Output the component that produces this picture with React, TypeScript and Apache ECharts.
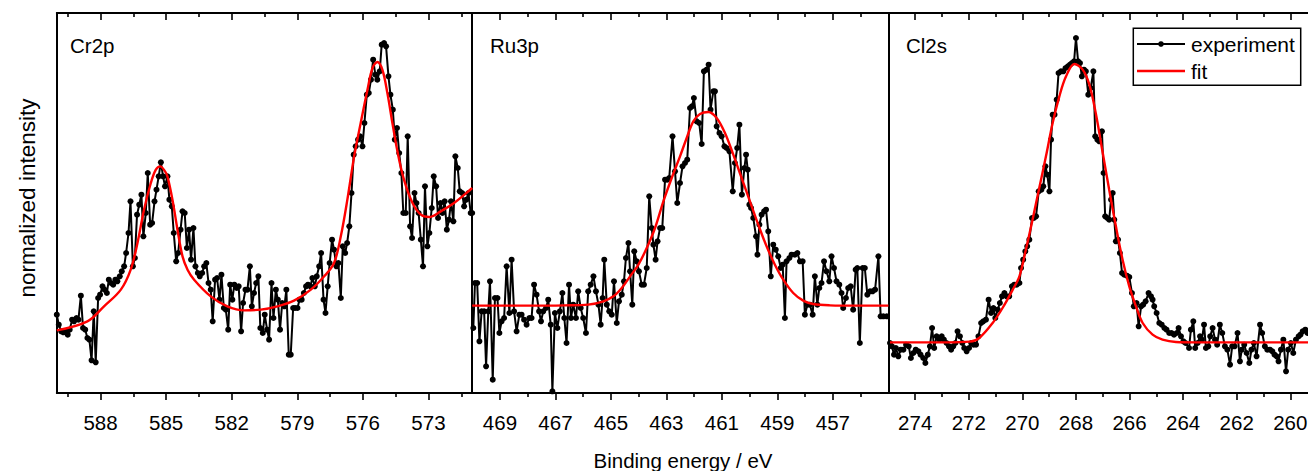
import React, { useEffect, useRef } from "react";
import * as echarts from "echarts";

// ---------- Cr2p ----------
const crEnergy = [
  590.0, 589.91, 589.8, 589.7, 589.6, 589.5, 589.41, 589.3, 589.21, 589.1,
  589.01, 588.9, 588.8, 588.7, 588.6, 588.51, 588.41, 588.31, 588.22, 588.11,
  588.02, 587.91, 587.82, 587.71, 587.62, 587.52, 587.42, 587.32, 587.23, 587.12,
  587.03, 586.92, 586.83, 586.72, 586.63, 586.52, 586.43, 586.33, 586.23, 586.13,
  586.04, 585.93, 585.84, 585.73, 585.64, 585.53, 585.44, 585.34, 585.24, 585.14,
  585.05, 584.94, 584.85, 584.74, 584.65, 584.54, 584.45, 584.34, 584.25, 584.15,
  584.05, 583.95, 583.86, 583.75, 583.66, 583.55, 583.46, 583.35, 583.26, 583.16,
  583.06, 582.96, 582.87, 582.76, 582.67, 582.56, 582.47, 582.36, 582.27, 582.16,
  582.07, 581.97, 581.88, 581.77, 581.68, 581.57, 581.48, 581.37, 581.28, 581.17,
  581.08, 580.98, 580.88, 580.78, 580.69, 580.58, 580.49, 580.38, 580.29, 580.18,
  580.09, 579.98, 579.89, 579.79, 579.69, 579.59, 579.5, 579.39, 579.3, 579.19,
  579.1, 578.99, 578.9, 578.8, 578.7, 578.6, 578.51, 578.4, 578.31, 578.2,
  578.11, 578.0, 577.91, 577.8, 577.71, 577.61, 577.52, 577.41, 577.32, 577.21,
  577.12, 577.01, 576.92, 576.81, 576.72, 576.62, 576.52, 576.42, 576.33, 576.22,
  576.13, 576.02, 575.93, 575.82, 575.73, 575.63, 575.53, 575.43, 575.34, 575.23,
  575.14, 575.03, 574.94, 574.83, 574.74, 574.63, 574.54, 574.44, 574.34, 574.24,
  574.15, 574.04, 573.95, 573.84, 573.75, 573.64, 573.55, 573.45, 573.35, 573.25,
  573.16, 573.05, 572.96, 572.85, 572.76, 572.65, 572.56, 572.45, 572.36, 572.26,
  572.16, 572.06, 571.97, 571.86, 571.77, 571.66, 571.57, 571.46, 571.37, 571.27,
  571.17, 571.07, 571.0,
];
const crIntensity = [
  23.5, 20.5, 18.5, 18.2, 18.5, 17.5, 19, 22, 21.5, 22.5,
  22, 29.2, 19.5, 19, 16.5, 16, 9.8, 24.5, 9.2, 28.5,
  29.5, 32, 31, 30, 34, 33, 32.5, 34, 33.5, 35,
  36.5, 38, 42, 48, 57.5, 38, 40.5, 53.5, 56.5, 59.5,
  47, 54, 66, 50.5, 51, 57.5, 61, 65, 69.2, 65,
  62, 65, 58, 56, 48, 39.5, 42, 49, 54.5, 54,
  43.5, 49, 40, 49.5, 38, 36, 35, 36, 38, 39,
  33, 31, 21.5, 34, 34.5, 28, 35.5, 25.5, 25, 19,
  32.5, 28, 32.5, 31.5, 32, 18.5, 27, 31, 31, 38,
  26, 30, 33, 35, 19.5, 18, 23.5, 19, 16, 33,
  22.5, 31, 28, 19, 27, 26, 31, 11.5, 11.5, 25.5,
  25.5, 25.5, 28, 28, 30, 32, 32.5, 32, 34.5, 32,
  35, 38, 42, 28, 24, 32, 39, 46, 43, 38,
  39, 28.5, 44, 42, 45, 50, 60, 71.5, 74, 76,
  77, 74, 81, 89.5, 90, 94, 100, 95.5, 94, 96.5,
  104.5, 105, 104, 95, 89.5, 85, 76, 79.5, 72, 66,
  54, 54, 77, 50, 46.5, 60, 57, 54, 46, 38,
  62, 44, 48, 55.5, 65, 62, 52.5, 57, 54, 57.5,
  49, 52, 57.5, 51.5, 71, 67.5, 60.5, 60, 56, 58,
  60, 54, 54,
];
const crFitEnergy = [
  590.0, 588.6, 587.84, 587.07, 586.62, 586.31, 586.01, 585.7, 585.47, 585.27,
  585.05, 584.94, 584.71, 584.48, 584.25, 584.02, 583.72, 582.96, 582.2, 581.43,
  580.67, 579.91, 579.15, 578.38, 577.77, 577.32, 577.01, 576.71, 576.4, 576.1,
  575.79, 575.56, 575.34, 575.11, 574.88, 574.65, 574.42, 574.12, 573.73, 573.35,
  572.97, 572.44, 571.83, 571.3, 571.0,
];
const crFitIntensity = [
  18.8, 21.5, 26, 31, 37, 45, 55, 63, 67, 68,
  66.5, 65, 58, 49, 41, 37, 34, 29, 26, 24.8,
  25, 26, 27.7, 31, 35, 39, 47, 58, 71, 81,
  91, 97.5, 99.3, 97, 90, 81, 72.5, 64, 57, 53.5,
  52.8, 54.5, 57, 59.8, 61.5,
];

// ---------- Ru3p ----------
const ruEnergy = [
  469.96, 469.9, 469.82, 469.74, 469.66, 469.57, 469.5, 469.42, 469.36, 469.26,
  469.18, 469.09, 469.02, 468.94, 468.85, 468.76, 468.66, 468.58, 468.49, 468.4,
  468.3, 468.22, 468.13, 468.04, 467.94, 467.86, 467.77, 467.68, 467.59, 467.52,
  467.44, 467.34, 467.26, 467.17, 467.11, 467.02, 466.93, 466.84, 466.75, 466.68,
  466.6, 466.51, 466.44, 466.36, 466.26, 466.18, 466.09, 466.0, 465.9, 465.82,
  465.73, 465.63, 465.54, 465.45, 465.37, 465.3, 465.24, 465.15, 465.06, 464.97,
  464.89, 464.79, 464.71, 464.61, 464.53, 464.46, 464.37, 464.31, 464.23, 464.16,
  464.07, 463.99, 463.89, 463.81, 463.71, 463.62, 463.53, 463.47, 463.39, 463.32,
  463.23, 463.15, 463.05, 462.97, 462.9, 462.78, 462.69, 462.61,
  462.51, 462.42, 462.33, 462.25, 462.15, 462.08, 462.01, 461.91, 461.82, 461.73,
  461.65, 461.55, 461.48, 461.41, 461.31, 461.25, 461.19, 461.09, 461.01, 460.91,
  460.83, 460.73, 460.61, 460.53, 460.45, 460.37, 460.28, 460.19, 460.13, 460.07,
  460.01, 459.95, 459.87, 459.77, 459.72, 459.65, 459.57, 459.48, 459.41, 459.33,
  459.24, 459.15, 459.06, 458.97, 458.88, 458.81, 458.73, 458.67, 458.57, 458.49,
  458.37, 458.28, 458.19, 458.09, 458.01, 457.92, 457.83, 457.73, 457.65, 457.56,
  457.49, 457.41, 457.32, 457.23, 457.13, 457.05, 456.96, 456.87, 456.77, 456.69,
  456.63, 456.53, 456.45, 456.36, 456.27, 456.18, 456.12, 456.03, 455.93, 455.85,
  455.76, 455.66, 455.57, 455.48, 455.36, 455.28, 455.18, 455.06,
];
const ruIntensity = [
  19.5, 33, 33, 15.5, 24.5, 24.5, 8, 24.5, 33.5, 4,
  28.5, 28.5, 18, 21.5, 22.5, 38, 24, 40, 24.5, 18.5,
  23.5, 23.5, 22, 20.5, 22.5, 22.5, 32.5, 29.5, 24.5, 21.5,
  24.5, 25.5, 28, 20.5, 0.5, 24, 19.5, 24.5, 30, 22.5,
  15, 32.5, 22.5, 26.5, 22.5, 30.5, 25.5, 22.5, 18, 30.5,
  32.5, 35, 30.5, 26.5, 20.5, 28.5, 40, 26.5, 24.5, 23.5,
  33.5, 21, 27.5, 29.5, 33.5, 40.5, 45, 36.5, 26.5, 42.5,
  39.5, 36.5, 32.5, 32.5, 37.5, 59, 49.5, 44.5, 40, 45.5,
  49.5, 49.5, 64, 64, 64.5, 77, 66.5, 57,
  63, 68, 69, 70, 85.5, 86, 88.5, 81.5, 81, 74.7,
  96.5, 97, 98.5, 85, 90.5, 90.5, 80, 78, 77, 74,
  73.5, 72.5, 60.5, 69, 73.5, 80.5, 59.5, 67.5, 71.5, 67,
  56.5, 55.5, 52.5, 47, 41.5, 50.5, 53.5, 54.5, 55, 48.5,
  35, 44.5, 43, 41, 37.5, 38.5, 22.5, 39.5, 40.5, 41.5,
  41.5, 42, 39.5, 39.5, 23.5, 26.5, 26.5, 23.5, 35, 26.5,
  31.5, 33, 39.5, 36.5, 33.5, 41, 37.5, 33.5, 32.5, 30,
  25.5, 28.5, 31.5, 32, 25, 37, 37.5, 15, 37.5, 37.5,
  29.5, 30.5, 30.5, 31, 41, 23, 23, 23,
];
const ruFitEnergy = [
  470.0, 467.86, 466.66, 465.82, 465.27, 464.91, 464.61, 464.31, 464.01, 463.71,
  463.41, 463.11, 462.81, 462.51, 462.27, 462.03, 461.79, 461.49, 461.19, 460.89,
  460.59, 460.29, 459.99, 459.69, 459.39, 459.09, 458.79, 458.43, 458.07, 457.71,
  457.11, 456.09, 455.0,
];
const ruFitIntensity = [
  26.2, 26.2, 26.3, 26.5, 27.5, 29, 31.5, 35, 38.5, 43.5,
  49.5, 57.5, 64.5, 71, 76.5, 81.5, 83.7, 84.3, 82.5, 78,
  71.5, 64.5, 57.5, 50.5, 44, 38.5, 34, 30, 27.7, 26.7,
  26.3, 26.2, 26.2,
];

// ---------- Cl2s ----------
const clEnergy = [
  274.94, 274.87, 274.79, 274.72, 274.63, 274.54, 274.44, 274.34, 274.24, 274.16,
  274.07, 273.98, 273.88, 273.8, 273.7, 273.62, 273.53, 273.45, 273.37, 273.29,
  273.2, 273.1, 273.01, 272.93, 272.83, 272.74, 272.66, 272.58, 272.5, 272.42,
  272.33, 272.24, 272.17, 272.08, 271.99, 271.91, 271.82, 271.73, 271.64, 271.54,
  271.46, 271.36, 271.26, 271.17, 271.08, 271.01, 270.92, 270.84, 270.76, 270.67,
  270.59, 270.49, 270.39, 270.3, 270.21, 270.11, 270.05, 269.97, 269.89, 269.82,
  269.74, 269.64, 269.57, 269.49, 269.39, 269.29, 269.22, 269.14, 269.07, 268.99,
  268.93, 268.87, 268.8, 268.72, 268.65, 268.56, 268.47, 268.39, 268.3, 268.22,
  268.15, 268.07, 268.0, 267.92, 267.85, 267.78, 267.7, 267.63, 267.54, 267.45,
  267.35, 267.28, 267.2, 267.13, 267.03, 266.97, 266.91, 266.83, 266.76, 266.69,
  266.63, 266.57, 266.51, 266.43, 266.36, 266.28, 266.2, 266.1, 266.01, 265.91,
  265.84, 265.74, 265.66, 265.57, 265.49, 265.4, 265.29, 265.2, 265.14, 265.08,
  264.99, 264.89, 264.8, 264.7, 264.62, 264.52, 264.43, 264.34, 264.24, 264.17,
  264.08, 263.99, 263.91, 263.78, 263.71, 263.62, 263.55, 263.46, 263.37, 263.3,
  263.22, 263.15, 263.06, 262.99, 262.9, 262.81, 262.73, 262.63, 262.54, 262.44,
  262.35, 262.25, 262.17, 262.08, 261.97, 261.88, 261.81, 261.72, 261.63, 261.53,
  261.45, 261.36, 261.26, 261.13, 261.05, 260.95, 260.86, 260.76, 260.67, 260.59,
  260.51, 260.44, 260.35, 260.26, 260.16, 260.08, 259.98, 259.89, 259.79, 259.69,
  259.62, 259.54, 259.44, 259.36,
];
const clIntensity = [
  15, 14, 11.5, 13.5, 11, 13, 13, 14.5, 14, 10.5,
  12, 13, 12.5, 11.5, 10.5, 9, 11.5, 14, 19.5, 13.5,
  17, 16, 17, 16, 15, 14, 13, 14, 15, 18.5,
  17, 15, 13.5, 12.5, 13.5, 15, 14.5, 14.5, 17, 21,
  21.5, 22, 28, 24, 25.5, 22.5, 25, 27, 29, 30,
  29, 29, 32, 32.5, 32.5, 33, 37.5, 40, 42.5, 44,
  46, 52.5, 52.5, 53, 60.5, 61, 62, 68, 65.5, 60.5,
  76, 83.5, 83.5, 88, 96, 96.5, 96.5, 97.5, 98, 98.5,
  99, 99.5, 106.5, 99.5, 99, 95, 97, 96.5, 89.5, 91.5,
  96.5, 77, 76, 75.5, 78.5, 66, 53, 52.5, 52, 58,
  60, 52, 45.5, 46, 42, 36, 35.5, 35.2, 34.8, 30,
  26, 27, 20, 26, 26.5, 27.5, 30, 29, 28, 26,
  24, 21, 20.5, 19.5, 19, 18, 18, 17.5, 18, 19.5,
  17, 15.5, 15, 13.5, 19, 21.5, 13.5, 15, 17, 16,
  20.5, 13.5, 14, 17, 19.5, 16, 14.5, 20.5, 18, 14,
  13, 8.5, 14, 14, 18, 9.5, 13, 14.5, 12, 9,
  13, 15, 11, 20.5, 18, 14, 13, 13, 12.5, 11.5,
  11, 9.5, 13, 16, 6.5, 13, 15, 12, 16, 17,
  17.5, 18.5, 19, 18,
];
const clFitEnergy = [
  274.94, 272.83, 271.96, 271.61, 271.11, 270.74, 270.36, 270.11, 269.87, 269.62,
  269.37, 269.12, 268.87, 268.62, 268.37, 268.06, 267.75, 267.5, 267.25, 267.0,
  266.76, 266.51, 266.26, 266.01, 265.76, 265.51, 265.14, 264.77, 264.27, 263.52,
  259.34,
];
const clFitIntensity = [
  15.2, 15.2, 15.4, 16.5, 21, 25.5, 31, 35, 43, 52,
  61.5, 71, 81, 89, 95, 98.7, 97, 92.5, 83.5, 72,
  61, 50, 40, 32, 26, 21, 17.5, 16, 15.3, 15.2,
  15.2,
];

// ---------- axes ----------
const panelLabels = ["Cr2p", "Ru3p", "Cl2s"];
const panelMin = [571, 455, 259.34];
const panelMax = [590, 470, 275];
const majorTicks = [
  [573, 576, 579, 582, 585, 588],
  [457, 459, 461, 463, 465, 467, 469],
  [260, 262, 264, 266, 268, 270, 272, 274],
];
const minorTicks = [
  [571.5, 574.5, 577.5, 580.5, 583.5, 586.5, 589.5],
  [456, 458, 460, 462, 464, 466, 468],
  [261, 263, 265, 267, 269, 271, 273],
];
const yMin = 0;
const yMax = 114;
const xTitle = "Binding energy / eV";
const yTitle = "normalized intensity";
const legendNames = ["experiment", "fit"];

const FONT = "'Liberation Sans', Arial, Helvetica, sans-serif";

const zip = (xs: number[], ys: number[]) => xs.map((x, i) => [x, ys[i]]);

const expData = [
  zip(crEnergy, crIntensity),
  zip(ruEnergy, ruIntensity),
  zip(clEnergy, clIntensity),
];
const fitData = [
  zip(crFitEnergy, crFitIntensity),
  zip(ruFitEnergy, ruFitIntensity),
  zip(clFitEnergy, clFitIntensity),
];

const gridBoxes = [
  { left: 56.8, width: 415.4 },
  { left: 472.2, width: 416.2 },
  { left: 888.4, width: 419.6 },
];

function buildOption() {
  const grid = gridBoxes.map((g) => ({
    left: g.left,
    width: g.width,
    top: 13,
    height: 380,
    containLabel: false,
    outerBoundsMode: "none",
  }));

  const xAxis: any[] = [];
  const yAxis: any[] = [];
  const series: any[] = [];
  const lineStyle = { color: "#000", width: 2 };

  for (let i = 0; i < 3; i++) {
    const base = {
      gridIndex: i,
      type: "value",
      inverse: true,
      min: panelMin[i],
      max: panelMax[i],
      splitLine: { show: false },
    };
    // bottom major (labels)
    xAxis.push({
      ...base,
      position: "bottom",
      axisLine: { show: true, onZero: false, lineStyle },
      axisTick: {
        show: true,
        inside: false,
        length: 7,
        customValues: majorTicks[i],
        lineStyle: { color: "#000", width: 1.6 },
      },
      axisLabel: {
        show: true,
        customValues: majorTicks[i],
        margin: 19,
        color: "#000",
        fontSize: 20.5,
        fontFamily: FONT,
        formatter: (v: number) => String(v),
      },
    });
    // bottom minor
    xAxis.push({
      ...base,
      position: "bottom",
      axisLine: { show: false, onZero: false },
      axisTick: {
        show: true,
        inside: false,
        length: 4,
        customValues: minorTicks[i],
        lineStyle: { color: "#000", width: 1.6 },
      },
      axisLabel: { show: false },
    });
    // top major
    xAxis.push({
      ...base,
      position: "top",
      axisLine: { show: true, onZero: false, lineStyle },
      axisTick: {
        show: true,
        inside: true,
        length: 7,
        customValues: majorTicks[i],
        lineStyle: { color: "#000", width: 1.6 },
      },
      axisLabel: { show: false },
    });
    // top minor
    xAxis.push({
      ...base,
      position: "top",
      axisLine: { show: false, onZero: false },
      axisTick: {
        show: true,
        inside: true,
        length: 4,
        customValues: minorTicks[i],
        lineStyle: { color: "#000", width: 1.6 },
      },
      axisLabel: { show: false },
    });

    yAxis.push({
      gridIndex: i,
      type: "value",
      min: yMin,
      max: yMax,
      position: "left",
      axisLine: { show: true, onZero: false, lineStyle },
      axisTick: { show: false },
      axisLabel: { show: false },
      splitLine: { show: false },
    });

    series.push({
      type: "line",
      name: legendNames[0],
      xAxisIndex: i * 4,
      yAxisIndex: i,
      data: expData[i],
      symbol: "circle",
      symbolSize: 6,
      showSymbol: true,
      lineStyle: { color: "#000", width: 2 },
      itemStyle: { color: "#000" },
      clip: true,
      z: 2,
    });
    series.push({
      type: "line",
      name: legendNames[1],
      xAxisIndex: i * 4,
      yAxisIndex: i,
      data: fitData[i],
      smooth: 0.35,
      symbol: "none",
      showSymbol: false,
      lineStyle: { color: "#ff0000", width: 2.4 },
      itemStyle: { color: "#ff0000" },
      clip: true,
      z: 3,
    });
  }

  const labelX = [70, 490, 906];
  const graphic: any[] = panelLabels.map((t, i) => ({
    type: "text",
    left: labelX[i],
    top: 35,
    style: { text: t, fontSize: 20.5, fontFamily: FONT, fill: "#000" },
    z: 10,
  }));

  graphic.push({
    type: "text",
    x: 683,
    y: 460,
    style: {
      text: xTitle,
      fontSize: 20.5,
      fontFamily: FONT,
      fill: "#000",
      align: "center",
      verticalAlign: "middle",
    },
  });
  graphic.push({
    type: "text",
    x: 27,
    y: 198,
    rotation: Math.PI / 2,
    style: {
      text: yTitle,
      fontSize: 22.5,
      fontFamily: FONT,
      fill: "#000",
      align: "center",
      verticalAlign: "middle",
    },
  });

  // legend box
  graphic.push({
    type: "group",
    z: 20,
    children: [
      {
        type: "rect",
        shape: { x: 1133.3, y: 28.3, width: 167.4, height: 57 },
        style: { fill: "#fff", stroke: "#000", lineWidth: 1.5 },
      },
      {
        type: "line",
        shape: { x1: 1137, y1: 44, x2: 1185, y2: 44 },
        style: { stroke: "#000", lineWidth: 2 },
      },
      {
        type: "circle",
        shape: { cx: 1161, cy: 44, r: 2.8 },
        style: { fill: "#000" },
      },
      {
        type: "text",
        x: 1191,
        y: 44,
        style: {
          text: legendNames[0],
          fontSize: 21,
          fontFamily: FONT,
          fill: "#000",
          verticalAlign: "middle",
        },
      },
      {
        type: "line",
        shape: { x1: 1137, y1: 71, x2: 1185, y2: 71 },
        style: { stroke: "#ff0000", lineWidth: 2.4 },
      },
      {
        type: "text",
        x: 1191,
        y: 71,
        style: {
          text: legendNames[1],
          fontSize: 21,
          fontFamily: FONT,
          fill: "#000",
          verticalAlign: "middle",
        },
      },
    ],
  });

  return {
    animation: false,
    backgroundColor: "#fff",
    grid,
    xAxis,
    yAxis,
    series,
    graphic,
  };
}

export default function App() {
  const ref = useRef<HTMLDivElement>(null);
  useEffect(() => {
    if (!ref.current) return;
    const chart = echarts.init(ref.current, undefined, { renderer: "svg" });
    chart.setOption(buildOption() as any);
    return () => chart.dispose();
  }, []);
  return (
    <div
      ref={ref}
      style={{
        position: "absolute",
        left: 0,
        top: 0,
        width: 1308,
        height: 471,
        overflow: "hidden",
      }}
    />
  );
}
